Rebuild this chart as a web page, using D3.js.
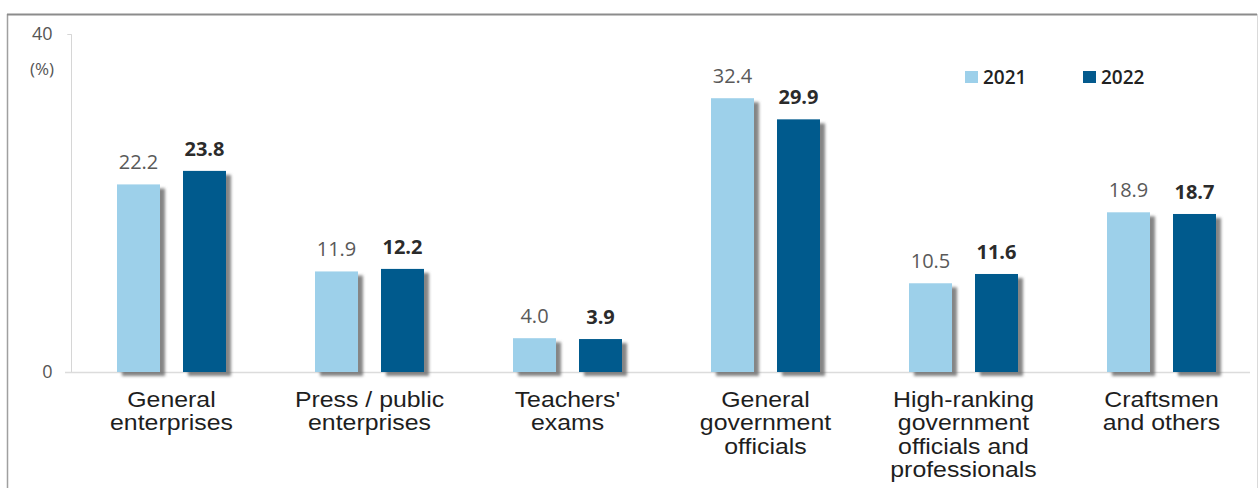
<!DOCTYPE html>
<html>
<head>
<meta charset="utf-8">
<script src="https://cdn.jsdelivr.net/npm/d3@7"></script>
<style>
  body { margin: 0; background: #fff; }
  svg { display: block; }
</style>
</head>
<body>
<svg width="1259" height="488"></svg>
<script>
const categories = [
    ["General", "enterprises"],
    ["Press / public", "enterprises"],
    ["Teachers'", "exams"],
    ["General", "government", "officials"],
    ["High-ranking", "government", "officials and", "professionals"],
    ["Craftsmen", "and others"]
];
const years = ["2021", "2022"];
const values2021 = [22.2, 11.9, 4.0, 32.4, 10.5, 18.9];
const values2022 = [23.8, 12.2, 3.9, 29.9, 11.6, 18.7];
const yTicks = [0, 40];

const colors = {"2021": "#9dd0ea", "2022": "#045a8d"};

const svg = d3.select("svg");
var width = +svg.attr("width");
var height = +svg.attr("height");

const rows = categories.map((c, i) => ({
    key: c.join(" "),
    lines: c,
    vals: [{year: "2021", v: values2021[i]}, {year: "2022", v: values2022[i]}]
}));

var defs = svg.append("defs");
var f = defs.append("filter").attr("id", "shadow")
    .attr("x", "-20%").attr("y", "-10%").attr("width", "150%").attr("height", "130%");
f.append("feDropShadow")
    .attr("dx", 5).attr("dy", 4).attr("stdDeviation", 1.8)
    .attr("flood-color", "#707070").attr("flood-opacity", 0.85);

// frame
svg.append("line").attr("x1", 7.5).attr("x2", 7.5).attr("y1", 14).attr("y2", height)
    .attr("stroke", "#a0a0a0").attr("stroke-width", 1.5);
svg.append("line").attr("x1", 7).attr("x2", 1257).attr("y1", 14.5).attr("y2", 14.5)
    .attr("stroke", "#8c8c8c").attr("stroke-width", 2);
svg.append("line").attr("x1", 1257.5).attr("x2", 1257.5).attr("y1", 14).attr("y2", height)
    .attr("stroke", "#dadada");

var y = d3.scaleLinear().domain([0, 40]).range([372, 34]);
var x = d3.scaleBand().domain(rows.map(d => d.key)).range([72.5, 1260.5]);
var xi = d3.scaleBand().domain(years).range([-54.5, 54.5]).paddingInner(0.3485);

// y axis
var yAxis = svg.append("g").attr("transform", "translate(71.5,0)")
    .call(d3.axisLeft(y).tickValues(yTicks).tickSize(4).tickPadding(15));
yAxis.select(".domain").attr("stroke", "#d6d6d6").attr("d", "M-4,34.5H0V372");
yAxis.selectAll(".tick line").attr("stroke", "#d6d6d6");
yAxis.selectAll(".tick text")
    .attr("fill", "#555").style("font-family", "'Open Sans', sans-serif").style("font-size", "18px");
yAxis.selectAll(".tick").filter(d => d === 0).select("line").remove();

svg.append("text").attr("x", 42).attr("y", 75)
    .attr("text-anchor", "middle").attr("fill", "#555")
    .style("font-family", "'Open Sans', sans-serif").style("font-size", "17px")
    .text("(%)");

// baseline
svg.append("line").attr("x1", 65).attr("x2", 1250).attr("y1", 372.5).attr("y2", 372.5)
    .attr("stroke", "#dcdcdc").attr("stroke-width", 1.5);

var group = svg.append("g").selectAll("g").data(rows).enter().append("g")
    .attr("transform", d => `translate(${x(d.key) + x.bandwidth() / 2},0)`);

group.selectAll("rect").data(d => d.vals).enter().append("rect")
    .attr("x", d => xi(d.year))
    .attr("width", xi.bandwidth())
    .attr("y", d => y(d.v))
    .attr("height", d => y(0) - y(d.v))
    .attr("fill", d => colors[d.year])
    .attr("filter", "url(#shadow)");

group.selectAll(".val").data(d => d.vals).enter().append("text")
    .attr("class", "val")
    .attr("x", d => xi(d.year) + xi.bandwidth() / 2)
    .attr("y", d => y(d.v) - 15)
    .attr("text-anchor", "middle")
    .attr("fill", d => d.year === "2021" ? "#595959" : "#2b2b2b")
    .style("font-family", "'Open Sans', sans-serif")
    .style("font-size", "20px")
    .style("font-weight", d => d.year === "2021" ? "normal" : "bold")
    .text(d => d3.format(".1f")(d.v));

var label = group.append("text")
    .attr("transform", "scale(1.13,1)")
    .attr("text-anchor", "middle")
    .attr("fill", "#1e1e1e")
    .style("font-family", "'Liberation Sans', Arial, sans-serif")
    .style("font-size", "22px");
label.selectAll("tspan").data(d => d.lines).enter().append("tspan")
    .attr("x", 0)
    .attr("y", (d, i) => 407 + i * 23.5)
    .text(d => d);

// legend
var legend = svg.append("g").selectAll("g").data(years).enter().append("g")
    .attr("transform", (d, i) => `translate(${965 + i * 118},71)`);
legend.append("rect").attr("width", 13).attr("height", 12).attr("fill", d => colors[d]);
legend.append("text").attr("x", 18).attr("y", 13)
    .attr("fill", "#222")
    .style("font-family", "'Open Sans', sans-serif")
    .style("font-size", "19px").style("font-weight", 600)
    .text(d => d);
</script>
</body>
</html>
